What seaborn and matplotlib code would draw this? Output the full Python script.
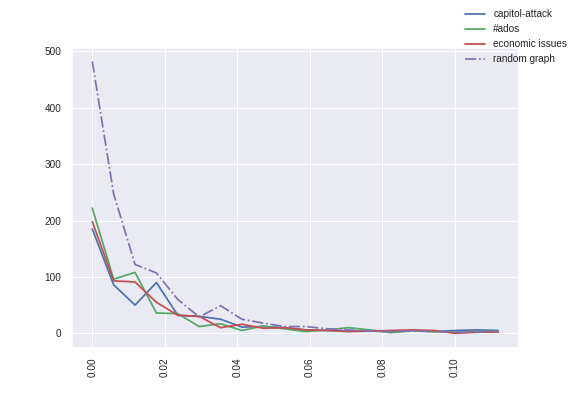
import matplotlib
matplotlib.use("Agg")
import matplotlib.pyplot as plt
import seaborn as sns

# bin positions (x) and counts per series
x = [0.0, 0.0059, 0.0118, 0.0177, 0.0236, 0.0295, 0.0354, 0.0413, 0.0472, 0.0531,
     0.0589, 0.0648, 0.0707, 0.0766, 0.0825, 0.0884, 0.0943, 0.1002, 0.1061, 0.1120]
capitol = [185, 86, 50, 90, 32, 30, 25, 11, 12, 10, 6, 5, 4, 4, 3, 5, 3, 5, 6, 5]
ados = [222, 96, 108, 36, 35, 12, 17, 5, 13, 8, 3, 6, 10, 6, 1, 5, 3, 2, 3, 3]
econ = [198, 93, 91, 55, 32, 30, 10, 16, 9, 10, 6, 5, 3, 4, 5, 6, 5, 0, 2, 2]
random_graph = [482, 247, 122, 107, 60, 29, 49, 25, 18, 12, 12, 8, 6, 4, 3, 4, 3, 2, 2, 3]

series = [("capitol-attack", capitol, "#4C72B0", "-"),
          ("#ados", ados, "#55A868", "-"),
          ("economic issues", econ, "#C44E52", "-"),
          ("random graph", random_graph, "#8172B2", "-.")]

sns.set_style("darkgrid")
plt.rcParams["font.family"] = ["Liberation Sans", "DejaVu Sans"]
plt.rcParams["xtick.major.pad"] = 7
plt.rcParams["ytick.major.pad"] = 7
plt.rcParams["grid.linewidth"] = 1.0

fig = plt.figure(figsize=(8, 5.5), dpi=72)
ax = fig.add_axes([0.125, 0.124, 0.775, 0.755])

for name, vals, color, ls in series:
    sns.lineplot(x=x, y=vals, ax=ax, color=color, linestyle=ls, linewidth=1.75, label=name)

handles, labels = ax.get_legend_handles_labels()
ax.get_legend().remove()
fig.legend(handles, labels, loc="upper right", frameon=False, fontsize=10)

ax.set_xticks([0.0, 0.02, 0.04, 0.06, 0.08, 0.10])
ax.set_xticklabels(["0.00", "0.02", "0.04", "0.06", "0.08", "0.10"], rotation=90)
ax.set_yticks([0, 100, 200, 300, 400, 500])
ax.tick_params(labelsize=10)

fig.savefig("out.png", dpi=72)
